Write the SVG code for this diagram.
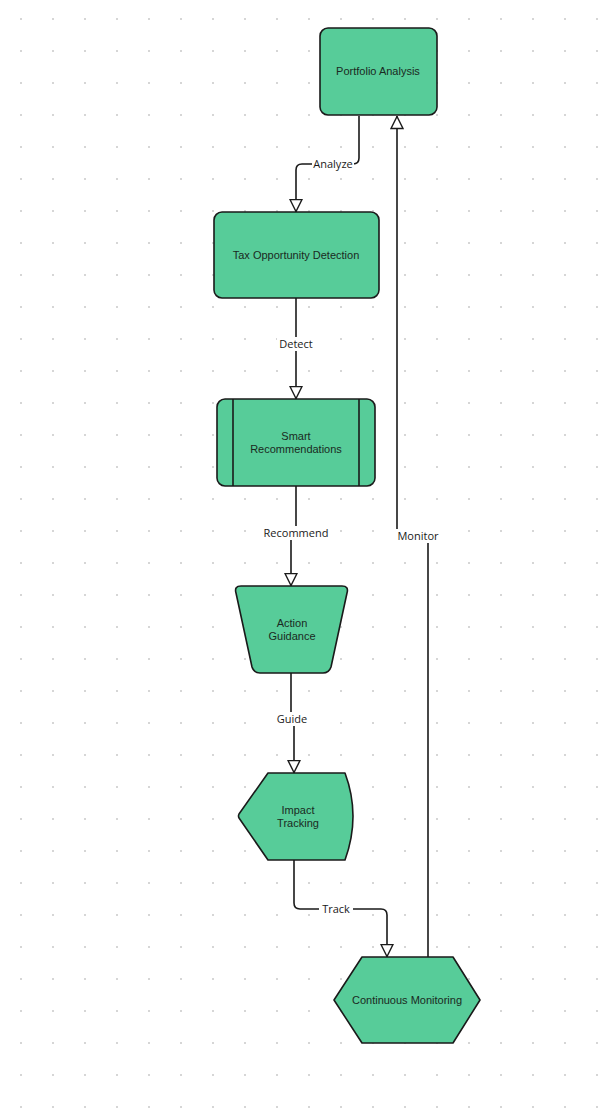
<svg xmlns="http://www.w3.org/2000/svg" width="600" height="1114" viewBox="0 0 600 1114">
<style>
.node{fill:#57CC99;stroke:#1a1a1a;stroke-width:1.6;stroke-linejoin:round}
.nt{font-family:"Liberation Sans",Arial,sans-serif;font-size:11px;fill:#1a2a22;text-anchor:middle}
.edge{fill:none;stroke:#1a1a1a;stroke-width:1.6}
.lbg{fill:#ffffff}
.lt{font-family:"Open Sans","DejaVu Sans",sans-serif;font-size:11px;fill:#1a1a1a;text-anchor:middle}
</style>
<defs>
<pattern id="dots" x="5" y="3" width="32" height="32" patternUnits="userSpaceOnUse">
<circle cx="16" cy="16" r="1" fill="#c8c8c8"/>
</pattern>
<marker id="arr" viewBox="0 0 14 14" refX="13.5" refY="7" markerWidth="14" markerHeight="14" markerUnits="userSpaceOnUse" orient="auto">
<path d="M1,1 L13,7 L1,13 Z" fill="#ffffff" stroke="#1a1a1a" stroke-width="1.4"/>
</marker>
</defs>
<rect width="600" height="1114" fill="#ffffff"/>
<rect width="600" height="1114" fill="url(#dots)"/>

<g id="connectors">
<path class="edge" d="M359,116 L359,158 Q359,164 353,164 L302,164 Q296,164 296,170 L296,212" marker-end="url(#arr)"/>
<rect class="lbg" x="312" y="157" width="42" height="14"/>
<text class="lt" x="333" y="168">Analyze</text>

<path class="edge" d="M296,298 L296,399" marker-end="url(#arr)"/>
<rect class="lbg" x="277" y="337" width="38" height="14"/>
<text class="lt" x="296" y="348">Detect</text>

<path class="edge" d="M296,486 L296,533 L291,533 L291,586" marker-end="url(#arr)"/>
<rect class="lbg" x="262" y="526" width="68" height="14"/>
<text class="lt" x="296" y="537">Recommend</text>

<path class="edge" d="M291,673 L291,719 L294,719 L294,773" marker-end="url(#arr)"/>
<rect class="lbg" x="274" y="712" width="36" height="14"/>
<text class="lt" x="292" y="723">Guide</text>

<path class="edge" d="M294,860 L294,903 Q294,909 300,909 L381,909 Q387,909 387,915 L387,957" marker-end="url(#arr)"/>
<rect class="lbg" x="319" y="902" width="34" height="14"/>
<text class="lt" x="336" y="913">Track</text>

<path class="edge" d="M428,957 L428,536 L397,536 L397,116" marker-end="url(#arr)"/>
<rect class="lbg" x="395" y="529" width="46" height="14"/>
<text class="lt" x="418" y="540">Monitor</text>
</g>

<g id="portfolio-analysis">
<rect class="node" x="320" y="28" width="117" height="87" rx="8"/>
<text class="nt" x="378" y="75">Portfolio Analysis</text>
</g>

<g id="tax-opportunity-detection">
<rect class="node" x="214" y="212" width="165" height="86" rx="8"/>
<text class="nt" x="296" y="259">Tax Opportunity Detection</text>
</g>

<g id="smart-recommendations">
<rect class="node" x="217" y="399" width="158" height="87" rx="8"/>
<line x1="233" y1="399" x2="233" y2="486" stroke="#1a1a1a" stroke-width="1.6"/>
<line x1="359" y1="399" x2="359" y2="486" stroke="#1a1a1a" stroke-width="1.6"/>
<text class="nt" x="296" y="440">Smart</text>
<text class="nt" x="296" y="453">Recommendations</text>
</g>

<g id="action-guidance">
<path class="node" d="M241,586 L342,586 Q349,586 347,593 L331,667 Q329,673 323,673 L260,673 Q254,673 252,667 L236,593 Q234,586 241,586 Z"/>
<text class="nt" x="292" y="627">Action</text>
<text class="nt" x="292" y="640">Guidance</text>
</g>

<g id="impact-tracking">
<path class="node" d="M268,773 L345,773 Q361,816 345,860 L268,860 L239,818 Q238,816 239,814 Z"/>
<text class="nt" x="298" y="814">Impact</text>
<text class="nt" x="298" y="827">Tracking</text>
</g>

<g id="continuous-monitoring">
<path class="node" d="M362,957 L453,957 L480,1000 L453,1043 L362,1043 L334,1000 Z"/>
<text class="nt" x="407" y="1004">Continuous Monitoring</text>
</g>
</svg>
